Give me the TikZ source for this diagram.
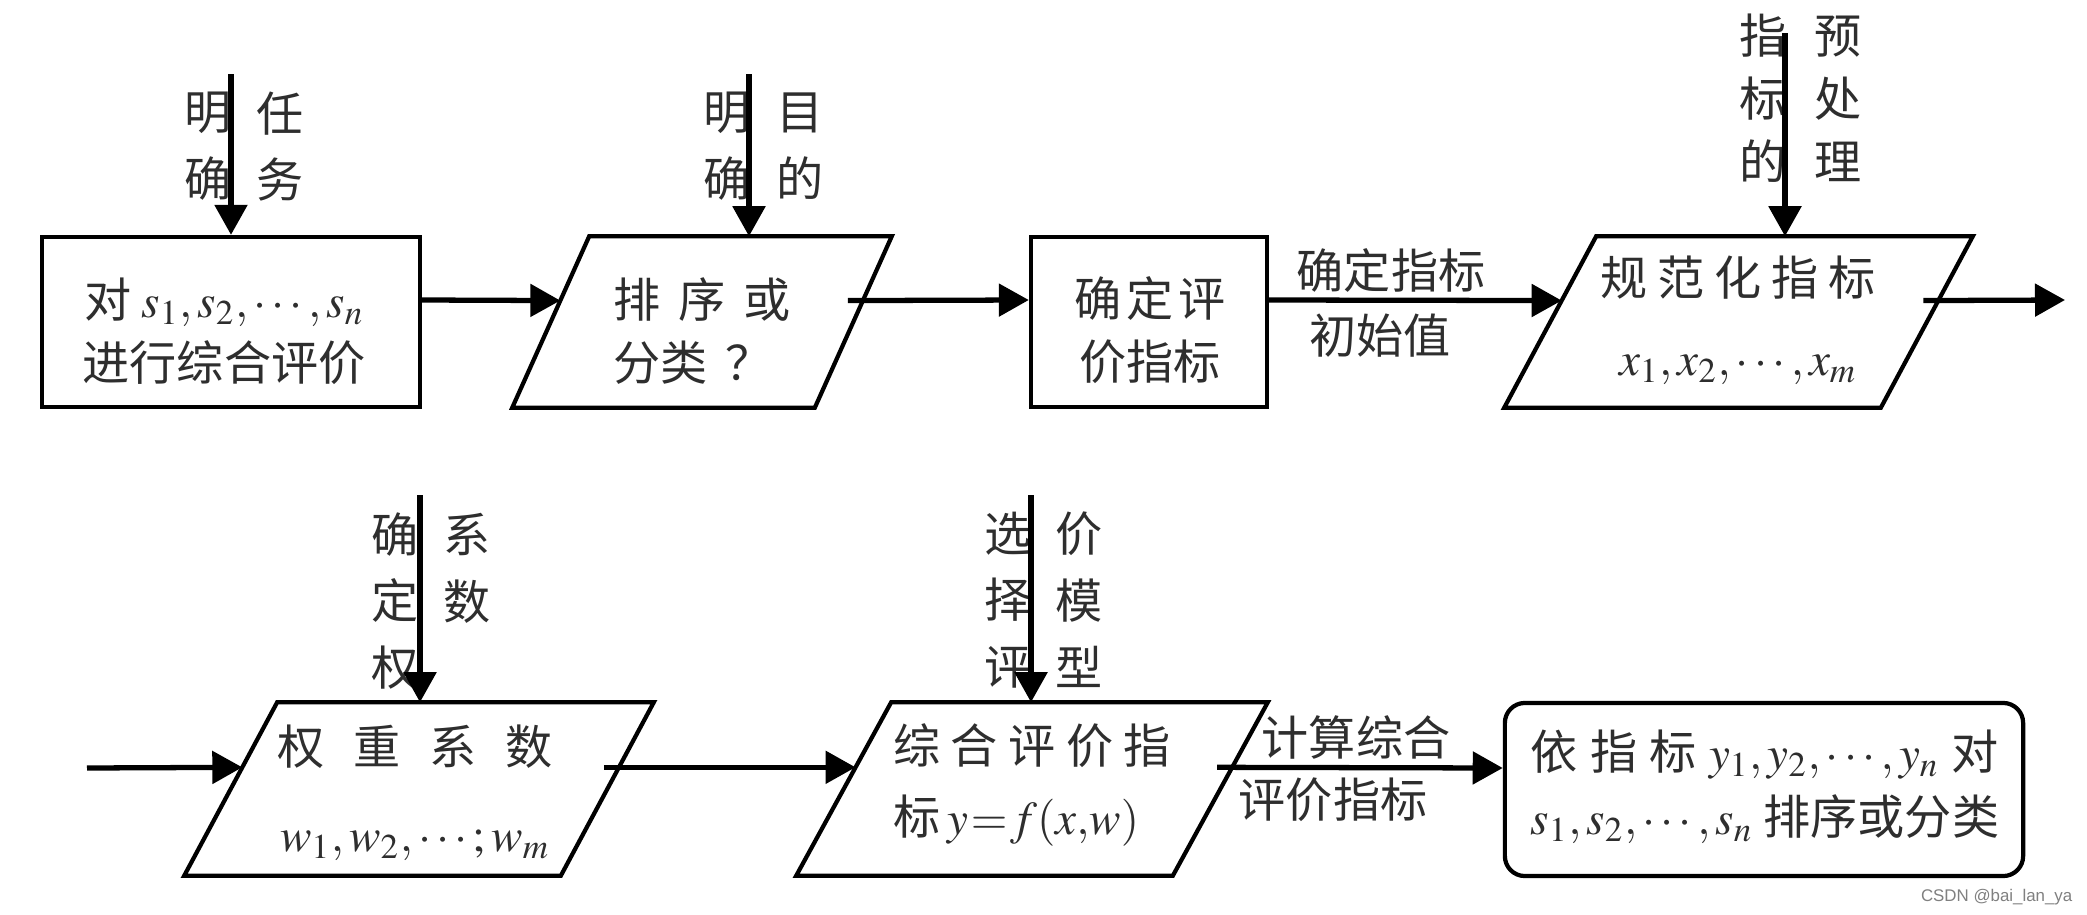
\documentclass[tikz,border=0pt]{standalone}
\usepackage{mathptmx}
\usepackage{fontspec}
\setmainfont{Noto Sans CJK SC}
\newfontfamily\wmfont{Liberation Sans}
\usetikzlibrary{arrows.meta,calc}
\newcommand\paraout[2]{%
  \coordinate (#1-tl) at ($(#1.north west)+(#2/2,0)$);
  \coordinate (#1-tr) at ($(#1.north east)+(#2/2,0)$);
  \coordinate (#1-br) at ($(#1.south east)-(#2/2,0)$);
  \coordinate (#1-bl) at ($(#1.south west)-(#2/2,0)$);
  \draw[outl] (#1-tl) -- (#1-tr) -- (#1-br) -- (#1-bl) -- cycle;
  \coordinate (#1-in) at ($(#1-bl)!0.625!(#1-tl)$);
  \coordinate (#1-out) at ($(#1-br)!0.625!(#1-tr)+(-15,0)$);
}
\tikzset{
  outl/.style={line width=1.2pt, line join=miter, draw=black},
  boxr/.style={outl, inner sep=0pt},
  shp/.style={draw=none, inner sep=0pt},
  txt/.style={font=\fontsize{13.4pt}{18pt}\selectfont, text=black!82, inner sep=0pt},
  vlab/.style={font=\fontsize{13.4pt}{19pt}\selectfont, text=black!82, align=center, inner sep=0pt},
  vlabt/.style={font=\fontsize{13.4pt}{17.9pt}\selectfont, text=black!82, align=center, inner sep=0pt},
  arr/.style={line width=1.5pt, -{Triangle[length=0.3cm,width=0.32cm]}},
}
\begin{document}
\begin{tikzpicture}[x=0.01cm,y=-0.01cm]
\useasboundingbox (0,0) rectangle (2087,915);
\fill[white] (0,0) rectangle (2087,915);

\coordinate (r1) at (0,300);
\coordinate (r2) at (0,768);

% top row shapes
\node[boxr, minimum width=3.78cm, minimum height=1.7cm] (b1) at (231,322) {};
\node[shp, minimum width=3.01cm, minimum height=1.7cm] (p1) at (702,322) {};
\paraout{p1}{77}
\node[boxr, minimum width=2.36cm, minimum height=1.7cm] (b2) at (1149,322) {};
\node[shp, minimum width=3.75cm, minimum height=1.7cm] (p2) at (1738.5,322) {};
\paraout{p2}{92}

% bottom row shapes
\node[shp, minimum width=3.75cm, minimum height=1.72cm] (p3) at (419,789) {};
\paraout{p3}{93}
\node[shp, minimum width=3.75cm, minimum height=1.72cm] (p4) at (1032,789) {};
\paraout{p4}{95}
\node[boxr, rounded corners=0.2cm, minimum width=5.18cm, minimum height=1.73cm] (b5) at (1764,789.5) {};

% texts in shapes
\node[txt, align=center] (t1) at (224,331) {对\hspace{3pt}$s_1,s_2,\cdots,s_n$\\进行综合评价};
\node[txt, align=left] (t2) at (702,331) {排\hspace{5pt}序\hspace{5pt}或\\分类\hspace{5pt}？};
\node[txt, align=center] (t3) at (1150,330) {确\hspace{1.5pt}定\hspace{1.5pt}评\\价指标};
\node[txt, align=center] (t4) at (1738,320) {规\hspace{2.8pt}范\hspace{2.8pt}化\hspace{2.8pt}指\hspace{2.8pt}标\\[4.8pt]$x_1,x_2,\cdots,x_m$};
\node[txt, align=center] (t5) at (415,793) {权\hspace{8.2pt}重\hspace{8.2pt}系\hspace{8.2pt}数\\[6.8pt]$w_1,w_2,\cdots;w_m$};
\node[txt, align=left] (t6) at (1032,785) {综\hspace{3pt}合\hspace{3pt}评\hspace{3pt}价\hspace{3pt}指\\[2pt]标\hspace{2pt}$y\mkern1mu{=}\mkern1mu f(x,\!w)$};
\node[txt, align=left] (t7) at (1765,786.5) {依\hspace{3.5pt}指\hspace{3.5pt}标\hspace{3.5pt}$y_1,y_2,\cdots,y_n$\hspace{3.5pt}对\\[0.5pt]$s_1,s_2,\cdots,s_n$\hspace{3pt}排序或分类};

% vertical side labels
\node[vlab] (v1a) at (208,146.5) {明\\确};
\node[vlab] (v1b) at (280,146.5) {任\\务};
\node[vlab] (v2a) at (727,146.5) {明\\确};
\node[vlab] (v2b) at (800,146.5) {目\\的};
\node[vlabt] (v3a) at (1763,98.5) {指\\标\\的};
\node[vlabt] (v3b) at (1838,98.5) {预\\处\\理};
\node[vlab] (v4a) at (395,601) {确\\定\\权};
\node[vlab] (v4b) at (467,568) {系\\数};
\node[vlab] (v5a) at (1008,600) {选\\择\\评};
\node[vlab] (v5b) at (1079,600) {价\\模\\型};

% vertical arrows
\coordinate (a1) at (231,74);
\coordinate (a2) at (749,74);
\coordinate (a3) at (1785,33);
\coordinate (a4) at (420,495);
\coordinate (a5) at (1031,495);
\draw[arr] (a1) -- (a1 |- b1.north);
\draw[arr] (a2) -- (a2 |- p1-tl);
\draw[arr] (a3) -- (a3 |- p2-tl);
\draw[arr] (a4) -- (a4 |- p3-tl);
\draw[arr] (a5) -- (a5 |- p4-tl);

% horizontal connectors
\coordinate (e1) at (2065,300);
\coordinate (s3) at (87,768);
\draw[arr] (b1.east |- r1) -- (p1-in);
\draw[arr] (p1-out) -- (b2.west |- r1);
\draw[arr] (b2.east |- r1) -- (p2-in);
\draw[arr] (p2-out) -- (e1);
\draw[arr] (s3) -- (p3-in);
\draw[arr] (p3-out) -- (p4-in);
\draw[arr] (p4-out) -- (b5.west |- r2);

% connector labels
\node[txt] (l3a) at (1391,270) {确定指标};
\node[txt] (l3b) at (1380,336) {初始值};
\node[txt] (l6a) at (1356,737) {计算综合};
\node[txt] (l6b) at (1333,800) {评价指标};

% watermark
\node[font=\wmfont\fontsize{4.8pt}{5pt}\selectfont, text=black!50, inner sep=0pt, anchor=east] (wm) at (2073,897) {CSDN @bai\_lan\_ya};
\end{tikzpicture}
\end{document}
